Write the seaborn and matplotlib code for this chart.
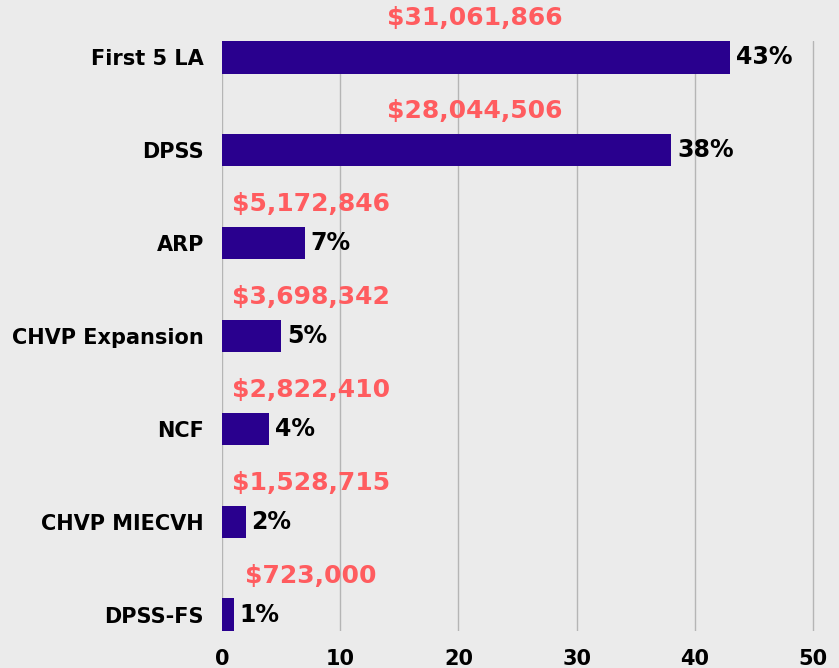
import pandas as pd
import seaborn as sns
import matplotlib.pyplot as plt

categories = ['First 5 LA', 'DPSS', 'ARP', 'CHVP Expansion', 'NCF', 'CHVP MIECVH', 'DPSS-FS']
amounts = [31061866, 28044506, 5172846, 3698342, 2822410, 1528715, 723000]
percents = [43, 38, 7, 5, 4, 2, 1]
ticks = [0, 10, 20, 30, 40, 50]

df = pd.DataFrame({'source': categories, 'pct': percents, 'amount': amounts})

bg = '#ebebeb'
bar_color = '#29008e'
money_color = '#ff5c5f'

sns.set_style("white")
plt.rcParams['font.family'] = ['DejaVu Sans']

fig = plt.figure(figsize=(8.39, 6.68), dpi=100, facecolor=bg)
ax = fig.add_axes([0.2646, 0.0554, 0.7114, 0.8832], facecolor=bg)

sns.barplot(x='pct', y='source', data=df, color=bar_color, saturation=1,
            width=0.35, orient='h', ax=ax, zorder=3, linewidth=0)

ax.set_xlim(0, 50.5)
ax.set_ylim(6.175, -0.175)
ax.set_xticks(ticks)
ax.set_xticklabels([str(t) for t in ticks])
ax.xaxis.grid(True, color='#b5b5b5', linewidth=1)
ax.set_axisbelow(True)
for s in ax.spines.values():
    s.set_visible(False)
ax.tick_params(axis='both', length=0, colors='black')
ax.tick_params(axis='x', pad=13, labelsize=15)
ax.tick_params(axis='y', pad=13, labelsize=15)
for lab in ax.get_xticklabels() + ax.get_yticklabels():
    lab.set_fontweight('bold')
    lab.set_color('black')
ax.set_xlabel('')
ax.set_ylabel('')

# money labels: centred over the long bars, near the axis for the short ones
for i, (p, a) in enumerate(zip(percents, amounts)):
    xm = 21.4 if p > 20 else 7.5
    ax.text(xm, i - 0.42, '${:,}'.format(a), ha='center', va='center',
            fontsize=18, fontweight='bold', color=money_color)
    ax.text(p + 0.5, i, '{}%'.format(p), ha='left', va='center',
            fontsize=17, fontweight='bold', color='black')

plt.savefig('out.png', dpi=100, facecolor=bg)
